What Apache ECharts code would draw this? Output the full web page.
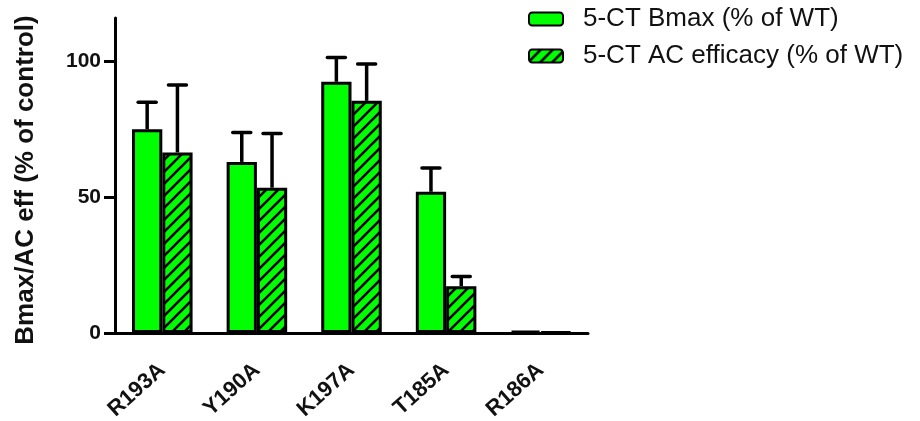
<!DOCTYPE html>
<html>
<head>
<meta charset="utf-8">
<script src="https://cdn.jsdelivr.net/npm/echarts@6/dist/echarts.min.js"></script>
<style>
html,body{margin:0;padding:0;background:#fff;}
#chart{width:920px;height:421px;}
</style>
</head>
<body>
<div id="chart"></div>
<script>
var categories = ['R193A', 'Y190A', 'K197A', 'T185A', 'R186A'];
var bmax = [75, 63, 92.5, 52, 0.8];
var bmaxErr = [10, 10.8, 9, 8.8, 0];
var acEff = [66.5, 53.5, 85.5, 17.2, 0.3];
var acErr = [24.8, 20, 13.6, 3.6, 0];
var yTicks = [0, 50, 100];
var seriesNames = ['5-CT Bmax (% of WT)', '5-CT AC efficacy (% of WT)'];

var GREEN = '#00ff00';
var FONT = 'Liberation Sans, Arial, sans-serif';
function makeHatch() {
  var s = 12;
  var c = document.createElement('canvas');
  c.width = s; c.height = s;
  var ctx = c.getContext('2d');
  ctx.fillStyle = GREEN;
  ctx.fillRect(0, 0, s, s);
  ctx.strokeStyle = '#000';
  ctx.lineWidth = 2.6;
  ctx.beginPath();
  ctx.moveTo(-2, s + 2); ctx.lineTo(s + 2, -2);
  ctx.moveTo(-s / 2 - 2, s / 2 + 2); ctx.lineTo(s / 2 + 2, -s / 2 - 2);
  ctx.moveTo(s / 2 - 2, s * 1.5 + 2); ctx.lineTo(s * 1.5 + 2, s / 2 - 2);
  ctx.stroke();
  return c;
}
var hatch = makeHatch();
var BAR_FRAC = 0.32;

function errRender(side) {
  return function (params, api) {
    var idx = api.value(0), val = api.value(1), err = api.value(2);
    if (!err) return null;
    var bandW = api.size([1, 0])[0];
    var bw = bandW * BAR_FRAC;
    var base = api.coord([idx, val]);
    var top = api.coord([idx, val + err]);
    var x = base[0] + side * bw / 2;
    var half = 9;
    return {
      type: 'group',
      children: [
        { type: 'line', shape: { x1: x, y1: base[1], x2: x, y2: top[1] }, style: { stroke: '#000', lineWidth: 3.5 } },
        { type: 'line', shape: { x1: x - half, y1: top[1], x2: x + half, y2: top[1] }, style: { stroke: '#000', lineWidth: 3.5, lineCap: 'round' } }
      ]
    };
  };
}

var chart = echarts.init(document.getElementById('chart'));
chart.setOption({
  animation: false,
  backgroundColor: '#fff',
  grid: { left: 115, right: 332, top: 18, bottom: 88, containLabel: false, outerBoundsMode: 'none' },
  legend: {
    orient: 'vertical',
    left: 528, top: 6,
    padding: 0,
    itemWidth: 34, itemHeight: 13,
    itemGap: 11,
    icon: 'roundRect',
    textStyle: { fontFamily: FONT, fontSize: 26, lineHeight: 26, color: '#111', padding: [0, 0, 0, 15] },
    data: seriesNames
  },
  xAxis: {
    type: 'category',
    data: categories,
    axisLine: { lineStyle: { color: '#000', width: 3 } },
    axisTick: { alignWithLabel: true, length: 10, lineStyle: { color: '#000', width: 3 } },
    axisLabel: {
      rotate: 42, margin: 34, color: '#111',
      fontFamily: FONT, fontWeight: 'bold', fontSize: 22
    }
  },
  yAxis: {
    type: 'value', min: 0, max: 116,
    name: 'Bmax/AC eff (% of control)',
    nameLocation: 'middle', nameGap: 76,
    nameTextStyle: { fontFamily: FONT, fontWeight: 'bold', fontSize: 26, color: '#111', padding: [0, 9, 0, 0] },
    splitLine: { show: false },
    axisLine: { show: true, lineStyle: { color: '#000', width: 3 } },
    axisTick: { show: true, length: 11, customValues: yTicks, lineStyle: { color: '#000', width: 3 } },
    axisLabel: {
      customValues: yTicks, margin: 14, color: '#111',
      fontFamily: FONT, fontWeight: 'bold', fontSize: 21
    }
  },
  series: [
    {
      name: seriesNames[0], type: 'bar', data: bmax,
      barWidth: (BAR_FRAC * 100) + '%', barGap: '0%',
      itemStyle: { color: GREEN, borderColor: '#000', borderWidth: 3 },
      z: 3
    },
    {
      name: seriesNames[1], type: 'bar', data: acEff,
      barWidth: (BAR_FRAC * 100) + '%', barGap: '0%',
      itemStyle: { color: { image: hatch, repeat: 'repeat' }, borderColor: '#000', borderWidth: 3 },
      z: 3
    },
    {
      type: 'custom', renderItem: errRender(-1), z: 2, silent: true,
      data: categories.map(function (c, i) { return [i, bmax[i], bmaxErr[i]]; })
    },
    {
      type: 'custom', renderItem: errRender(1), z: 2, silent: true,
      data: categories.map(function (c, i) { return [i, acEff[i], acErr[i]]; })
    }
  ]
});
</script>
</body>
</html>
